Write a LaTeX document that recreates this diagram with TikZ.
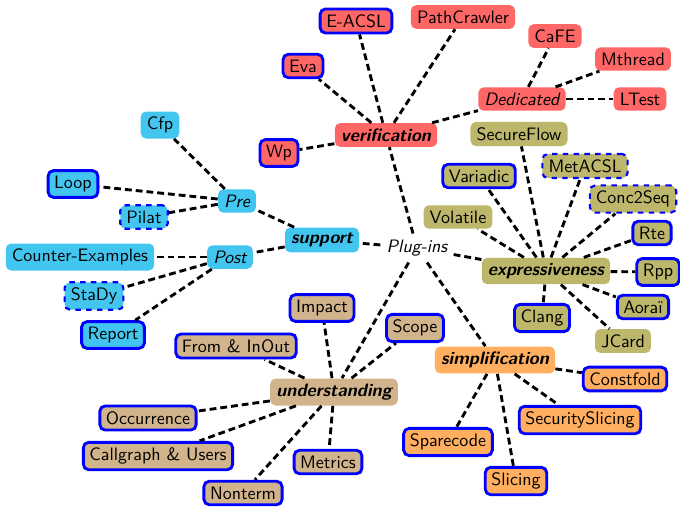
\documentclass[tikz,border=0pt]{standalone}
\definecolor{cver}{RGB}{255,102,102}
\definecolor{csup}{RGB}{66,198,240}
\definecolor{cexp}{RGB}{189,183,107}
\definecolor{cund}{RGB}{210,180,140}
\definecolor{csim}{RGB}{255,175,95}
\tikzset{
  box/.style={rounded corners=3pt, inner xsep=3.4pt, inner ysep=3pt, font=\sffamily},
  plug/.style={box, draw=blue, ultra thick},
  wip/.style={box, draw=blue, very thick, dashed},
  cat/.style={box, font=\sffamily\bfseries\itshape},
  sub/.style={box, font=\sffamily\itshape},
  link/.style={draw=black, ultra thick, dash pattern=on 3.8pt off 2.2pt},
}
\begin{document}
\begin{tikzpicture}[x=0.5556pt,y=-0.5556pt]
\useasboundingbox (0,0) rectangle (680,507);
% center
\node[font=\sffamily\itshape] (plug) at (417,248) {Plug-ins};
% verification
\node[cat, fill=cver] (ver) at (386,135) {verification};
\node[plug, fill=cver] (eva) at (303,66) {Eva};
\node[plug, fill=cver] (eacsl) at (356,21) {E-ACSL};
\node[box, fill=cver] (pc) at (463,17) {PathCrawler};
\node[box, fill=cver] (cafe) at (555,36) {CaFE};
\node[box, fill=cver] (mth) at (633,59) {Mthread};
\node[sub, fill=cver] (ded) at (522,99) {Dedicated};
\node[box, fill=cver] (ltest) at (640,99) {LTest};
\node[plug, fill=cver] (wp) at (279,153) {Wp};
% support
\node[cat, fill=csup] (sup) at (322,240) {support};
\node[sub, fill=csup] (pre) at (237,201) {Pre};
\node[sub, fill=csup] (post) at (230,257) {Post};
\node[box, fill=csup] (cfp) at (160,125) {Cfp};
\node[plug, fill=csup] (loop) at (73,184) {Loop};
\node[wip, fill=csup] (pilat) at (144,217) {Pilat};
\node[box, fill=csup] (cex) at (80,257) {Counter-Examples};
\node[wip, fill=csup] (stady) at (94,296) {StaDy};
\node[plug, fill=csup] (report) at (113,335) {Report};
% expressiveness
\node[cat, fill=cexp] (exp) at (546,271) {expressiveness};
\node[box, fill=cexp] (sflow) at (519,134) {SecureFlow};
\node[plug, fill=cexp] (var) at (479,176) {Variadic};
\node[wip, fill=cexp] (metacsl) at (585,166) {MetACSL};
\node[wip, fill=cexp] (c2s) at (633,199) {Conc2Seq};
\node[box, fill=cexp] (vol) at (458,217) {Volatile};
\node[plug, fill=cexp] (rte) at (652,233) {Rte};
\node[plug, fill=cexp] (rpp) at (658,272) {Rpp};
\node[plug, fill=cexp] (aorai) at (643,307) {Aora\"{\i}};
\node[box, fill=cexp] (jcard) at (623,341) {JCard};
\node[plug, fill=cexp] (clang) at (542,318) {Clang};
% understanding
\node[cat, fill=cund] (und) at (334,392) {understanding};
\node[plug, fill=cund] (impact) at (322,308) {Impact};
\node[plug, fill=cund] (scope) at (415,328) {Scope};
\node[plug, fill=cund] (from) at (236,346) {From \& InOut};
\node[plug, fill=cund] (occ) at (148,418) {Occurrence};
\node[plug, fill=cund] (cg) at (158,456) {Callgraph \& Users};
\node[plug, fill=cund] (metrics) at (328,462) {Metrics};
\node[plug, fill=cund] (nonterm) at (243,493) {Nonterm};
% simplification
\node[cat, fill=csim] (sim) at (495,360) {simplification};
\node[plug, fill=csim] (cfold) at (625,379) {Constfold};
\node[plug, fill=csim] (ssl) at (580,420) {SecuritySlicing};
\node[plug, fill=csim] (spare) at (448,442) {Sparecode};
\node[plug, fill=csim] (slicing) at (516,481) {Slicing};
% links
\foreach \a/\b in {plug/ver, plug/sup, plug/exp, plug/sim, plug/und,
  ver/eva, ver/eacsl, ver/pc, ver/ded, ver/wp,
  ded/cafe, ded/mth, ded/ltest,
  sup/pre, sup/post, pre/cfp, pre/loop, pre/pilat,
  post/cex, post/stady, post/report,
  exp/sflow, exp/var, exp/metacsl, exp/c2s, exp/vol, exp/rte, exp/rpp, exp/aorai, exp/jcard, exp/clang,
  und/impact, und/scope, und/from, und/occ, und/cg, und/metrics, und/nonterm,
  sim/cfold, sim/ssl, sim/spare, sim/slicing}
  \draw[link] (\a) -- (\b);
\end{tikzpicture}
\end{document}
